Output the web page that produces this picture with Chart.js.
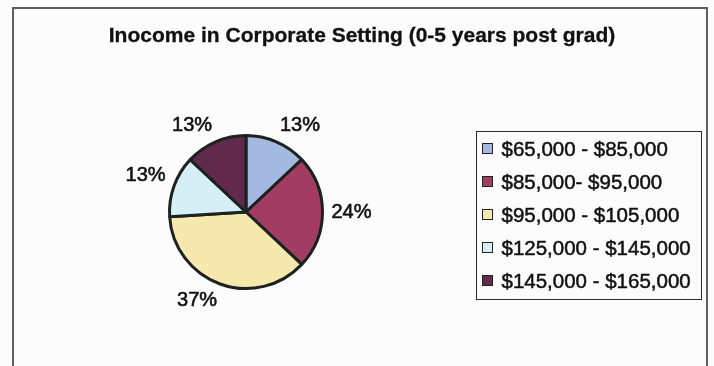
<!DOCTYPE html>
<html>
<head>
<meta charset="utf-8">
<title>Inocome in Corporate Setting (0-5 years post grad)</title>
<script src="https://cdn.jsdelivr.net/npm/chart.js@4"></script>
<style>
  html, body { margin: 0; padding: 0; background: #fcfcfc; }
  #wrap {
    position: relative; width: 714px; height: 366px; overflow: hidden;
    background: #fcfcfc; color: #111;
    font-family: "Liberation Sans", Arial, sans-serif;
  }
  #frame {
    position: absolute; left: 12px; top: 7px; width: 696px; height: 400px;
    box-sizing: border-box; border: 2px solid #5e5e5e; border-bottom: none;
  }
  #chart { position: absolute; left: 0; top: 0; }
  #title {
    position: absolute; left: 5px; top: 22px; width: 714px; text-align: center;
    font-weight: bold; font-size: 21px; line-height: 26px; white-space: nowrap;
    -webkit-text-stroke: 0.3px #111;
  }
  #legend {
    position: absolute; left: 476px; top: 131px; width: 226px; height: 169px;
    box-sizing: border-box; border: 1.5px solid #2a2a2a;
  }
  .row {
    display: flex; align-items: center; height: 33px; font-size: 20.5px; white-space: nowrap;
    -webkit-text-stroke: 0.5px #111;
  }
  .sw {
    width: 11px; height: 11px; box-sizing: border-box; border: 1.5px solid #222;
    margin-left: 4.5px; margin-right: 9px; flex: none;
  }
</style>
</head>
<body>
<div id="wrap">
  <div id="frame"></div>
  <canvas id="chart" width="714" height="366"></canvas>
  <div id="title"></div>
  <div id="legend"></div>
</div>
<script>
// Salary bands and the share of graduates in each (percent)
const categories = [
  "$65,000 - $85,000",
  "$85,000- $95,000",
  "$95,000 - $105,000",
  "$125,000 - $145,000",
  "$145,000 - $165,000"
];
const shares = [13, 24, 37, 13, 13];
const sliceColors = ["#a4b9e0", "#a33c62", "#f7e9ae", "#d6eef5", "#61294c"];
const chartTitle = "Inocome in Corporate Setting (0-5 years post grad)";

document.getElementById('title').textContent = chartTitle;

// Legend: one row per salary band
const legendEl = document.getElementById('legend');
categories.forEach((name, i) => {
  const row = document.createElement('div');
  row.className = 'row';
  const sw = document.createElement('span');
  sw.className = 'sw';
  sw.style.background = sliceColors[i];
  const txt = document.createElement('span');
  txt.textContent = name;
  row.appendChild(sw);
  row.appendChild(txt);
  legendEl.appendChild(row);
});

// Percentage labels placed just outside each slice
const outsideLabels = {
  id: 'outsideLabels',
  afterDatasetsDraw(chart) {
    const { ctx } = chart;
    const meta = chart.getDatasetMeta(0);
    const clamp = v => Math.max(-1, Math.min(1, v));
    ctx.save();
    ctx.font = '20px "Liberation Sans", Arial, sans-serif';
    ctx.fillStyle = '#111';
    ctx.strokeStyle = '#111';
    ctx.lineWidth = 0.6;
    ctx.textAlign = 'center';
    ctx.textBaseline = 'middle';
    meta.data.forEach((arc, i) => {
      const p = arc.getProps(['x', 'y', 'startAngle', 'endAngle', 'outerRadius'], true);
      const mid = (p.startAngle + p.endAngle) / 2;
      const dx = Math.cos(mid), dy = Math.sin(mid);
      const text = chart.data.datasets[0].data[i] + '%';
      const w = ctx.measureText(text).width;
      const h = 16;
      const r = p.outerRadius + 9;
      const cx = p.x + dx * r + clamp(dx * 3) * w / 2;
      const cy = p.y + dy * r + clamp(dy * 3) * h / 2;
      ctx.fillText(text, cx, cy);
      ctx.strokeText(text, cx, cy);
    });
    ctx.restore();
  }
};

new Chart(document.getElementById('chart'), {
  type: 'pie',
  data: {
    labels: categories,
    datasets: [{
      data: shares,
      backgroundColor: sliceColors,
      borderColor: '#1c221f',
      borderWidth: 3
    }]
  },
  options: {
    responsive: false,
    animation: false,
    devicePixelRatio: 1,
    events: [],
    layout: { padding: { left: 168, right: 390, top: 134, bottom: 76 } },
    plugins: {
      legend: { display: false },
      title: { display: false },
      tooltip: { enabled: false }
    }
  },
  plugins: [outsideLabels]
});
</script>
</body>
</html>
